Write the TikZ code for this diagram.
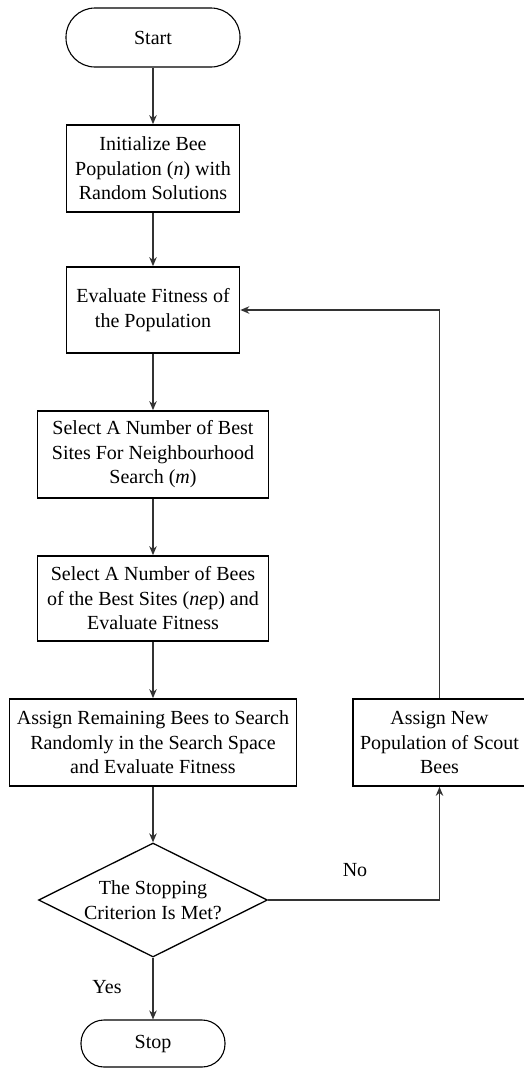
\documentclass[tikz,border=0pt]{standalone}
\usepackage{fontspec}
\setmainfont{Liberation Serif}
\usetikzlibrary{shapes.geometric,arrows.meta}
\begin{document}
\begin{tikzpicture}[x=1pt,y=1pt,
  every node/.style={font=\fontsize{20}{24.5}\selectfont},
  proc/.style={draw, line width=1.7pt, rectangle, align=center, inner sep=0pt, minimum height=86pt},
  term/.style={draw, line width=1.1pt, rectangle, rounded corners=23pt, inner sep=0pt},
  dec/.style={draw, line width=1.3pt, diamond, inner sep=0pt, minimum width=229pt, minimum height=114pt},
  flow/.style={line width=1.4pt, draw=black!80, -{Stealth[length=9pt,width=7.5pt]}},
  lbl/.style={inner sep=0pt}
]
\useasboundingbox (0,0) rectangle (524,-1069);
\node[term, minimum width=174pt, minimum height=59pt, rounded corners=29pt] (start) at (153,-37.5) {Start};
\node[proc, minimum width=173pt, minimum height=87pt] (init) at (153,-168.5) {Initialize Bee\\Population (\textit{n}) with\\Random Solutions};
\node[proc, minimum width=173pt] (eval) at (153,-310) {Evaluate Fitness of\\the Population};
\node[proc, minimum width=231pt, minimum height=87pt] (sel) at (153,-454.5) {Select A Number of Best\\Sites For Neighbourhood\\Search (\textit{m})};
\node[proc, minimum width=231pt, minimum height=85pt] (selb) at (153,-598.5) {Select A Number of Bees\\of the Best Sites (\textit{ne}p) and\\Evaluate Fitness};
\node[proc, minimum width=287pt, minimum height=87pt] (assign) at (153,-742.5) {Assign Remaining Bees to Search\\Randomly in the Search Space\\and Evaluate Fitness};
\node[proc, minimum width=173pt, minimum height=87pt] (newpop) at (439.5,-742.5) {Assign New\\Population of Scout\\Bees};
\node[dec] (crit) at (153,-900) {};
\node[lbl, align=center] (crittext) at (crit.center) {The Stopping\\Criterion Is Met?};
\node[term, minimum width=144pt, minimum height=47pt] (stop) at (153,-1043.5) {Stop};
\node[lbl] (no) at (355,-870) {No};
\node[lbl] (yes) at (107,-987) {Yes};

\draw[flow] (start.south) -- (init.north);
\draw[flow] (init.south) -- (eval.north);
\draw[flow] (eval.south) -- (sel.north);
\draw[flow] (sel.south) -- (selb.north);
\draw[flow] (selb.south) -- (assign.north);
\draw[flow] (assign.south) -- (crit.north);
\draw[flow] (crit.south) -- (stop.north);
\draw[flow] (crit.east) -| (newpop.south);
\draw[flow] (newpop.north) |- (eval.east);
\end{tikzpicture}
\end{document}
